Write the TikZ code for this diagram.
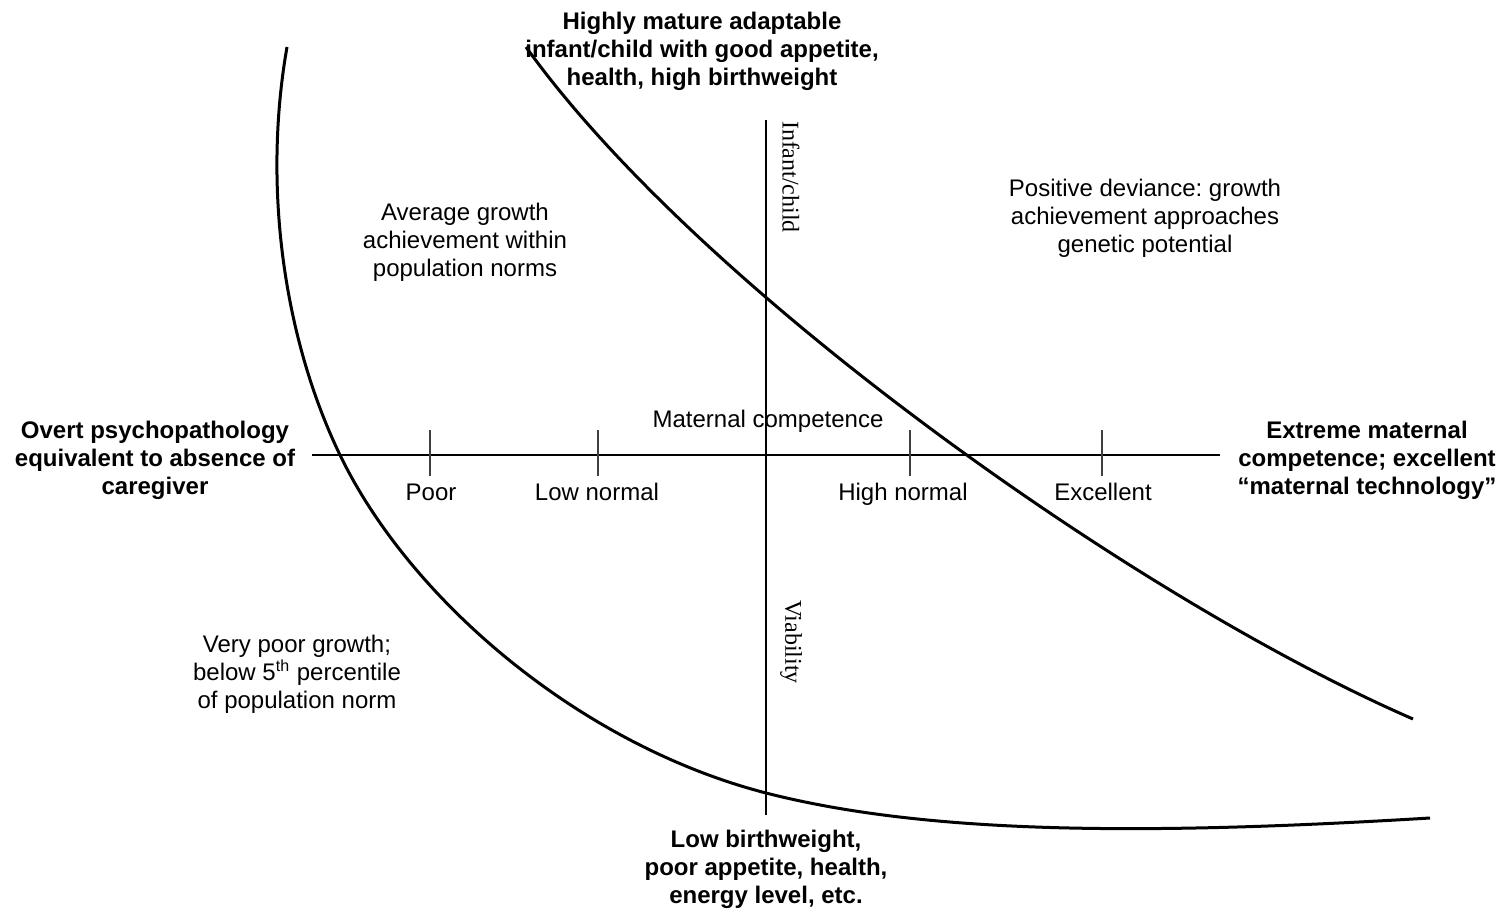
\documentclass[tikz,border=0pt]{standalone}
\usepackage{fontspec}
\setmainfont{Liberation Sans}
\newfontfamily\axisfont{Liberation Serif}
\usepackage{tikz}
\frenchspacing

\begin{document}
\begin{tikzpicture}[x=0.5pt, y=-0.5pt,
  txt/.style={align=center, inner sep=0pt, font=\fontsize{12}{14}\selectfont},
  bold/.style={txt, font=\fontsize{12}{14}\selectfont\bfseries},
  ticklabel/.style={txt, anchor=base},
  axislabel/.style={inner sep=0pt, rotate=-90, font=\fontsize{12}{14}\axisfont},
  tick/.style={black!75, line width=0.8pt},
  curve/.style={line width=1.5pt}]
\useasboundingbox (0,0) rectangle (1501,909);
\coordinate (west) at (312,455);
\coordinate (east) at (1220,455);
\coordinate (north) at (766,120);
\coordinate (south) at (766,815);
\draw[line width=1.2pt] (west) -- (east);
\draw[line width=1.2pt] (north) -- (south);
\foreach \x/\name in {430/poor, 598/low, 910/high, 1102/exc}
  \draw[tick] (\x,430) -- (\x,476) coordinate (t\name);
\node[ticklabel] (lpoor) at (431,501) {Poor};
\node[ticklabel] (llow) at (597,501) {Low normal};
\node[ticklabel] (lhigh) at (903,501) {High normal};
\node[ticklabel] (lexc) at (1103,501) {Excellent};
\node[txt] (mat) at (768,421) {Maternal competence};
\node[axislabel] (infant) at (791,177) {Infant/child};
\node[axislabel] (viab) at (791,642) {Viability};
\node[bold] (left) at (155,460) {Overt psychopathology\\equivalent to absence of\\caregiver};
\node[bold] (right) at (1367,460) {Extreme maternal\\competence; excellent\\“maternal technology”};
\node[bold] (top) at (702,51) {Highly mature adaptable\\infant/child with good appetite,\\health, high birthweight};
\node[bold] (bottom) at (766,869) {Low birthweight,\\poor appetite, health,\\energy level, etc.};
\node[txt] (avg) at (465,242) {Average growth\\achievement within\\population norms};
\node[txt] (pos) at (1145,218) {Positive deviance: growth\\achievement approaches\\genetic potential};
\node[txt] (vpoor) at (297,674) {Very poor growth;\\below 5\textsuperscript{th} percentile\\of population norm};
\draw[curve] (287,47) .. controls (262,190) and (285,341) .. (340,455)
  .. controls (410,600) and (580,745) .. (766,793)
  .. controls (930,835) and (1150,835) .. (1430,818);
\draw[curve] (526,47) .. controls (700,290) and (1137,599) .. (1413,719);
\end{tikzpicture}
\end{document}
